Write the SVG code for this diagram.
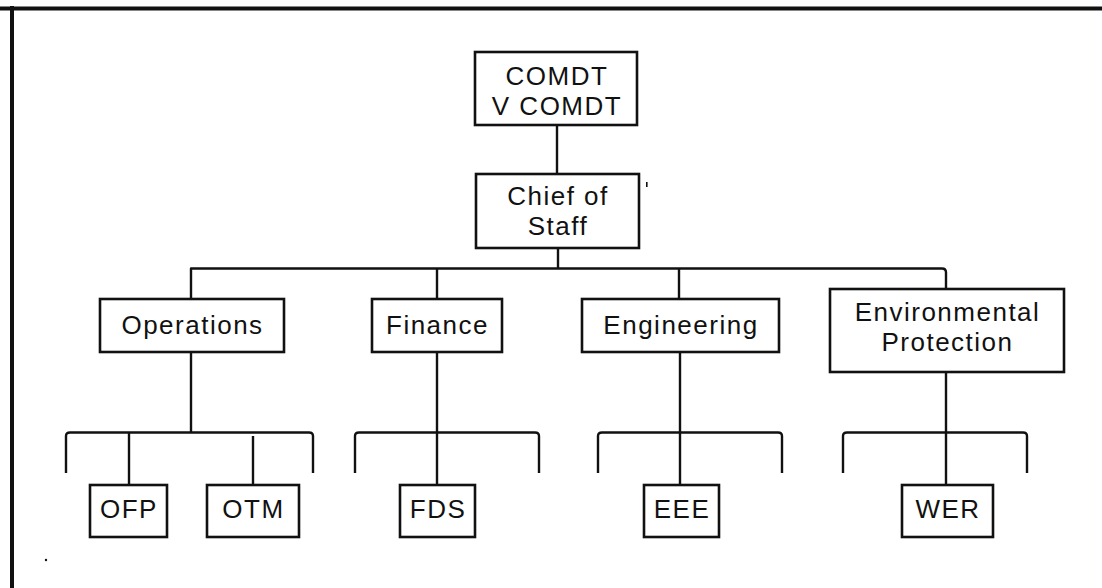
<svg xmlns="http://www.w3.org/2000/svg" width="1102" height="588" viewBox="0 0 1102 588">
<style>
.box{fill:#fff;stroke:#111;stroke-width:2.6}
.ln{fill:none;stroke:#111;stroke-width:2.4;stroke-linejoin:round}
.t{font-family:"Liberation Sans",Arial,sans-serif;font-size:26px;letter-spacing:1.5px;fill:#111;text-anchor:middle}
</style>
<rect x="0" y="0" width="1102" height="588" fill="#fff"/>
<g id="frame">
<line x1="0" y1="8.5" x2="1102" y2="8.5" stroke="#111" stroke-width="4"/>
<line x1="12" y1="6" x2="12" y2="588" stroke="#111" stroke-width="4"/>
</g>
<g id="connectors" class="ln">
<path d="M557 125V174"/>
<path d="M558 248V268.5"/>
<path d="M191 299V268.5H942Q946 268.5 946 272.5V289"/>
<path d="M437 268.5V299"/>
<path d="M679 268.5V299"/>
<path d="M191 352V432.5"/>
<path d="M66 473V436Q66 432.5 70 432.5H309Q313 432.5 313 436V473"/>
<path d="M129 432.5V485"/>
<path d="M253 436V485"/>
<path d="M437 352V485"/>
<path d="M355 473V436Q355 432.5 359 432.5H535Q539 432.5 539 436V473"/>
<path d="M680 352V485"/>
<path d="M598 473V436Q598 432.5 602 432.5H778Q782 432.5 782 436V473"/>
<path d="M946 372V485"/>
<path d="M843 473V436Q843 432.5 847 432.5H1023Q1027 432.5 1027 436V473"/>
</g>
<g id="comdt"><rect class="box" x="475" y="52" width="162" height="73"/><text class="t" x="557" y="84.5">COMDT</text><text class="t" x="557" y="114.5">V COMDT</text></g>
<g id="chief"><rect class="box" x="476" y="174" width="163" height="74"/><text class="t" x="558" y="204.5">Chief of</text><text class="t" x="558" y="234.5">Staff</text></g>
<g id="operations"><rect class="box" x="100" y="299" width="184" height="53"/><text class="t" x="192.5" y="334">Operations</text></g>
<g id="finance"><rect class="box" x="372" y="299" width="130" height="53"/><text class="t" x="437.5" y="334">Finance</text></g>
<g id="engineering"><rect class="box" x="582" y="299" width="197" height="53"/><text class="t" x="681" y="334">Engineering</text></g>
<g id="envprot"><rect class="box" x="830" y="289" width="234" height="83"/><text class="t" x="947.5" y="321">Environmental</text><text class="t" x="947.5" y="351">Protection</text></g>
<g id="ofp"><rect class="box" x="90" y="485" width="77" height="52"/><text class="t" x="129" y="517.5">OFP</text></g>
<g id="otm"><rect class="box" x="207" y="485" width="92" height="52"/><text class="t" x="253.5" y="517.5">OTM</text></g>
<g id="fds"><rect class="box" x="400" y="485" width="75" height="52"/><text class="t" x="438" y="517.5">FDS</text></g>
<g id="eee"><rect class="box" x="644" y="485" width="75" height="52"/><text class="t" x="682" y="517.5">EEE</text></g>
<g id="wer"><rect class="box" x="902" y="485" width="91" height="52"/><text class="t" x="948" y="517.5">WER</text></g>
<g id="specks" fill="#111"><rect x="646" y="182" width="1.6" height="5"/><circle cx="46" cy="560" r="1.2"/></g>
</svg>
